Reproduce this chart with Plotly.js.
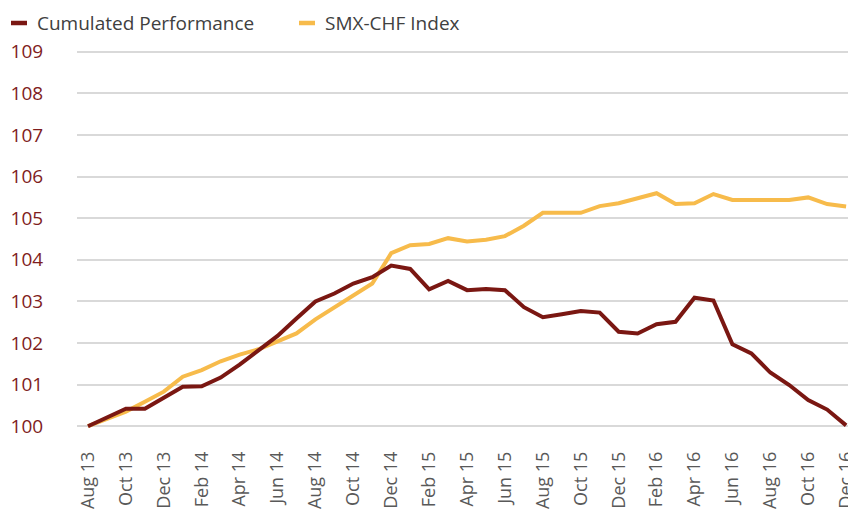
<!DOCTYPE html>
<html>
<head>
<meta charset="utf-8">
<script src="https://cdn.plot.ly/plotly-3.0.1.min.js"></script>
<style>
html,body{margin:0;padding:0;background:#fff;}
#chart{width:848px;height:512px;}
</style>
</head>
<body>
<div id="chart"></div>
<script>
const months = ["Aug 13","Sep 13","Oct 13","Nov 13","Dec 13","Jan 14","Feb 14","Mar 14","Apr 14","May 14","Jun 14","Jul 14",
"Aug 14","Sep 14","Oct 14","Nov 14","Dec 14","Jan 15","Feb 15","Mar 15","Apr 15","May 15","Jun 15","Jul 15",
"Aug 15","Sep 15","Oct 15","Nov 15","Dec 15","Jan 16","Feb 16","Mar 16","Apr 16","May 16","Jun 16","Jul 16",
"Aug 16","Sep 16","Oct 16","Nov 16","Dec 16"];

const cumulatedPerformance = [100.00,100.20,100.42,100.42,100.69,100.95,100.96,101.17,101.48,101.83,102.17,102.59,
103.00,103.19,103.43,103.58,103.86,103.78,103.29,103.49,103.27,103.30,103.27,102.86,
102.62,102.69,102.77,102.73,102.27,102.23,102.45,102.51,103.09,103.02,101.97,101.75,
101.29,100.99,100.63,100.40,100.02];

const smxChfIndex = [100.00,100.17,100.35,100.59,100.83,101.19,101.35,101.56,101.72,101.85,102.03,102.23,
102.57,102.85,103.14,103.43,104.16,104.35,104.38,104.52,104.44,104.48,104.57,104.82,
105.13,105.13,105.13,105.29,105.36,105.48,105.60,105.34,105.36,105.58,105.44,105.44,
105.44,105.44,105.50,105.34,105.28];

const seriesNames = ["Cumulated Performance","SMX-CHF Index"];
const yTicks = [100,101,102,103,104,105,106,107,108,109];
const xTicks = months.filter((m,i)=>i%2===0);

const red = "#7a1712";
const yellow = "#f7bb4b";
const FONT = "Open Sans, sans-serif";

const traces = [
  {x: months, y: smxChfIndex, name: seriesNames[1], type:"scatter", mode:"lines",
   line:{color:yellow, width:4}, showlegend:false},
  {x: months, y: cumulatedPerformance, name: seriesNames[0], type:"scatter", mode:"lines",
   line:{color:red, width:4}, showlegend:false}
];

const layout = {
  width:848, height:512,
  margin:{l:77, r:0, t:31, b:65},
  paper_bgcolor:"#fff", plot_bgcolor:"#fff",
  xaxis:{type:"category", range:[-0.58, 40.1], tickmode:"array", tickvals:xTicks, ticktext:xTicks,
    tickangle:-90, showgrid:false, zeroline:false, showline:false, ticks:"",
    tickfont:{family:FONT, size:18, color:"#595959"}},
  yaxis:{range:[99.5,109.5], tickmode:"array", tickvals:yTicks, ticktext:yTicks.map(String),
    showgrid:true, gridcolor:"#d9d9d9", gridwidth:2, zeroline:false, showline:false,
    ticks:"outside", ticklen:29, tickcolor:"rgba(0,0,0,0)",
    tickfont:{family:FONT, size:19, color:"#7f1d1d"}},
  shapes:[
    {type:"line", xref:"paper", yref:"paper", x0:(11-77)/771, x1:(27-77)/771, y0:(512-65-23)/416, y1:(512-65-23)/416,
     line:{color:red, width:4.5}},
    {type:"line", xref:"paper", yref:"paper", x0:(299-77)/771, x1:(315-77)/771, y0:(512-65-23)/416, y1:(512-65-23)/416,
     line:{color:yellow, width:4.5}}
  ],
  annotations:[
    {xref:"paper", yref:"paper", x:(35-77)/771, y:(512-65-23)/416, xanchor:"left", yanchor:"middle",
     text:seriesNames[0], showarrow:false, font:{family:FONT, size:19, color:"#404040"}},
    {xref:"paper", yref:"paper", x:(323-77)/771, y:(512-65-23)/416, xanchor:"left", yanchor:"middle",
     text:seriesNames[1], showarrow:false, font:{family:FONT, size:19, color:"#404040"}}
  ]
};

Plotly.newPlot("chart", traces, layout, {displayModeBar:false, staticPlot:true});
</script>
</body>
</html>
